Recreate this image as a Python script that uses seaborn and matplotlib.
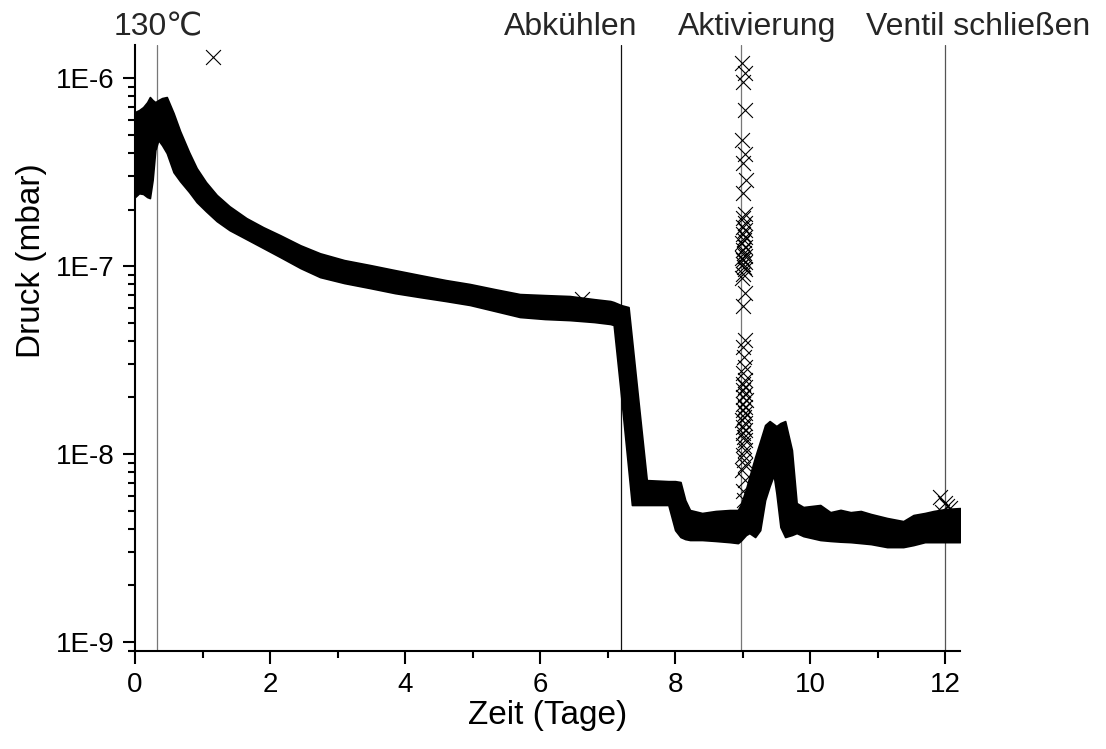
import numpy as np
import pandas as pd
import matplotlib
matplotlib.use("Agg")
import matplotlib.pyplot as plt
import matplotlib.ticker as mticker
import matplotlib.transforms as mtransforms
import seaborn as sns

# ---- data ----
# envelope of the dense measurement band (time in days, pressure in mbar)
t_env = [0.00, 0.06, 0.12, 0.18, 0.22, 0.26, 0.30, 0.345, 0.40, 0.47, 0.57, 0.667,
         0.80, 0.913, 1.05, 1.21, 1.40, 1.65, 1.90, 2.15, 2.45, 2.74, 3.10, 3.48,
         3.85, 4.22, 4.60, 4.96, 5.33, 5.70, 6.07, 6.44, 6.80, 7.04, 7.09, 7.20,
         7.31, 7.36, 7.45, 7.58, 7.90, 8.00, 8.08, 8.15, 8.22, 8.40, 8.60, 8.81,
         8.93, 8.97, 9.05, 9.10, 9.185, 9.26, 9.333, 9.40, 9.46, 9.50, 9.56, 9.63,
         9.73, 9.80, 9.90, 10.15, 10.30, 10.45, 10.60, 10.75, 10.90, 11.14, 11.38,
         11.53, 11.70, 11.83, 12.00, 12.22]
p_upper = [6.60e-7, 6.76e-7, 7.01e-7, 7.45e-7, 7.93e-7, 7.64e-7, 7.45e-7, 7.64e-7,
           7.83e-7, 7.93e-7, 6.52e-7, 5.23e-7, 4.04e-7, 3.32e-7, 2.80e-7, 2.39e-7,
           2.08e-7, 1.80e-7, 1.61e-7, 1.46e-7, 1.29e-7, 1.17e-7, 1.076e-7,
           1.013e-7, 9.52e-8, 8.96e-8, 8.43e-8, 8.03e-8, 7.54e-8, 7.10e-8, 7.01e-8,
           6.93e-8, 6.67e-8, 6.52e-8, 6.44e-8, 6.20e-8, 6.05e-8, 4.09e-8, 2.01e-8,
           7.27e-9, 7.18e-9, 7.18e-9, 7.10e-9, 5.69e-9, 5.04e-9, 4.86e-9, 4.98e-9,
           5.04e-9, 5.04e-9, 5.36e-9, 6.51e-9, 7.55e-9, 9.64e-9, 1.173e-8, 1.427e-8,
           1.498e-8, 1.444e-8, 1.409e-8, 1.462e-8, 1.498e-8, 1.050e-8, 5.49e-9,
           5.23e-9, 5.36e-9, 4.91e-9, 5.05e-9, 4.91e-9, 4.98e-9, 4.80e-9, 4.57e-9,
           4.40e-9, 4.74e-9, 4.86e-9, 4.98e-9, 5.10e-9, 5.16e-9]
p_lower = [2.33e-7, 2.44e-7, 2.42e-7, 2.33e-7, 2.30e-7, 2.87e-7, 4.14e-7, 4.68e-7,
           4.40e-7, 3.99e-7, 3.16e-7, 2.83e-7, 2.48e-7, 2.19e-7, 1.96e-7, 1.735e-7,
           1.553e-7, 1.392e-7, 1.247e-7, 1.117e-7, 9.76e-8, 8.74e-8, 8.12e-8,
           7.64e-8, 7.18e-8, 6.84e-8, 6.52e-8, 6.21e-8, 5.77e-8, 5.36e-8, 5.23e-8,
           5.16e-8, 5.04e-8, 4.92e-8, 4.86e-8, 2.03e-8, 8.12e-9, 5.36e-9, 5.36e-9,
           5.36e-9, 5.36e-9, 3.94e-9, 3.62e-9, 3.53e-9, 3.49e-9, 3.49e-9, 3.45e-9,
           3.40e-9, 3.36e-9, 3.45e-9, 3.71e-9, 3.80e-9, 3.62e-9, 3.94e-9, 5.69e-9,
           6.76e-9, 7.73e-9, 6.20e-9, 4.09e-9, 3.62e-9, 3.71e-9, 3.80e-9, 3.66e-9,
           3.49e-9, 3.45e-9, 3.42e-9, 3.40e-9, 3.36e-9, 3.32e-9, 3.20e-9, 3.20e-9,
           3.28e-9, 3.40e-9, 3.40e-9, 3.40e-9, 3.40e-9]

# isolated outlier points (x markers)
t_out = [1.16, 6.62, 11.93, 12.00, 12.07, 11.96, 12.03]
p_out = [1.29e-6, 6.7e-8, 5.9e-9, 5.49e-9, 5.16e-9, 4.9e-9, 5.3e-9]

# burst of readings at the activation (x markers)
t_spike = [8.99, 9.03, 9.01, 9.04, 8.99, 9.03, 9.01, 9.05, 9.00, 9.03,
           9.01, 9.04, 9.00, 9.03, 9.01, 9.04, 9.02, 8.99, 9.03, 9.00,
           9.02, 9.04, 8.99, 9.01, 9.03, 9.00, 9.02, 9.04, 9.01, 8.99,
           9.03, 9.01, 9.04, 9.00, 9.02,
           9.04, 9.01, 9.03, 9.00, 9.04, 9.01, 9.03, 9.00, 9.05, 9.01,
           9.03, 9.00, 9.04, 9.02, 8.99, 9.03, 9.01, 9.04, 9.00, 9.02,
           9.04, 9.01, 9.03, 9.00, 9.02, 9.04, 8.99, 9.03, 9.01, 9.02]
p_spike = [1.20e-6, 1.06e-6, 9.55e-7, 6.76e-7, 4.68e-7, 3.97e-7, 3.52e-7, 2.87e-7,
           2.44e-7, 1.90e-7, 1.80e-7, 1.70e-7, 1.62e-7, 1.55e-7, 1.49e-7, 1.42e-7,
           1.37e-7, 1.32e-7, 1.27e-7, 1.22e-7, 1.17e-7, 1.13e-7, 1.10e-7, 1.08e-7,
           1.05e-7, 1.02e-7, 9.9e-8, 9.6e-8, 9.1e-8, 8.6e-8, 7.2e-8, 6.1e-8,
           4.04e-8, 3.72e-8, 3.30e-8,
           2.91e-8, 2.69e-8, 2.48e-8, 2.35e-8, 2.28e-8, 2.18e-8, 2.10e-8, 2.00e-8,
           1.94e-8, 1.85e-8, 1.79e-8, 1.72e-8, 1.65e-8, 1.58e-8, 1.52e-8, 1.46e-8,
           1.40e-8, 1.34e-8, 1.29e-8, 1.24e-8, 1.19e-8, 1.12e-8, 1.05e-8, 9.9e-9,
           9.3e-9, 8.7e-9, 8.2e-9, 7.3e-9, 6.4e-9, 5.7e-9]

# event markers
event_t = [0.326, 7.20, 8.98, 12.00]
event_colors = ["#777777", "#111111", "#777777", "#555555"]
event_labels = ["130\u2103", "Abk\u00fchlen", "Aktivierung", "Ventil schlie\u00dfen"]
event_label_t = [0.34, 6.46, 9.21, 12.49]

ytick_vals = [1e-9, 1e-8, 1e-7, 1e-6]
xtick_vals = [0, 2, 4, 6, 8, 10, 12]

# ---- style ----
sns.set_style("ticks")
plt.rcParams["font.family"] = ["Liberation Sans", "DejaVu Sans", "Noto Sans CJK SC"]

fig = plt.figure(figsize=(11.06, 7.49), dpi=100)
ax = fig.add_axes([0.1221, 0.1308, 0.7459, 0.8091])
ax.set_yscale("log")
ax.set_xlim(0, 12.22)
ax.set_ylim(8.96e-10, 1.50e-6)

for t, c in zip(event_t, event_colors):
    ax.axvline(t, color=c, lw=0.9, zorder=1)

band = pd.DataFrame({
    "t": list(t_env) + list(t_env),
    "p": list(p_upper) + list(p_lower),
})
sns.lineplot(data=band, x="t", y="p", estimator="mean", errorbar=("pi", 100),
             color="black", linewidth=1, err_kws={"alpha": 1, "linewidth": 1.2,
                                                  "edgecolor": "black"},
             ax=ax, zorder=3, legend=False)

pts = pd.DataFrame({"t": list(t_out) + list(t_spike),
                    "p": list(p_out) + list(p_spike)})
sns.scatterplot(data=pts, x="t", y="p", marker="x", s=115, color="black",
                linewidth=0.8, ax=ax, zorder=4, legend=False)

# event labels above the plot
trans = mtransforms.blended_transform_factory(ax.transData, ax.transAxes)
for lbl, t in zip(event_labels, event_label_t):
    ax.text(t, 1.0 + 10 / 606, lbl, transform=trans, ha="center", va="baseline",
            fontsize=23, clip_on=False)

# axes cosmetics
sns.despine(ax=ax)
for s in ["left", "bottom"]:
    ax.spines[s].set_linewidth(1.5)
    ax.spines[s].set_color("black")

ax.yaxis.set_major_locator(mticker.FixedLocator(ytick_vals))
ax.yaxis.set_major_formatter(mticker.FuncFormatter(
    lambda v, pos: "1E%d" % int(round(np.log10(v)))))
ax.yaxis.set_minor_locator(mticker.LogLocator(base=10, subs=np.arange(2, 10)))
ax.yaxis.set_minor_formatter(mticker.NullFormatter())
ax.xaxis.set_major_locator(mticker.FixedLocator(xtick_vals))
ax.xaxis.set_minor_locator(mticker.MultipleLocator(1))

ax.tick_params(axis="both", which="major", direction="out", length=9, width=1.5,
               labelsize=20, pad=6, color="black", labelcolor="black")
ax.tick_params(axis="both", which="minor", direction="out", length=5, width=1.5,
               color="black")

ax.set_xlabel("Zeit (Tage)", fontsize=24, color="black")
ax.set_ylabel("Druck (mbar)", fontsize=24, color="black")
ax.xaxis.set_label_coords(0.5, -0.08)
ax.yaxis.set_label_coords(-0.107, 0.645)
ax.yaxis.label.set_va("bottom")
ax.xaxis.label.set_va("top")

fig.savefig("out.png", dpi=100)
